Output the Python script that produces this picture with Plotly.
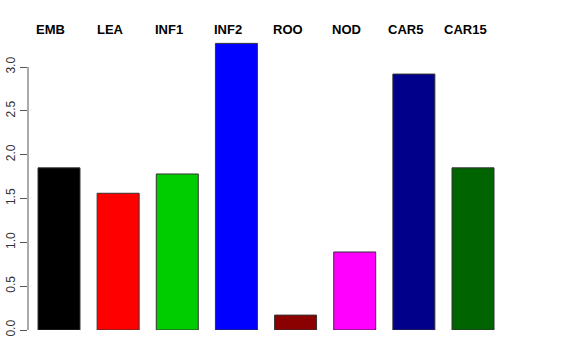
import plotly.graph_objects as go

categories = ["EMB", "LEA", "INF1", "INF2", "ROO", "NOD", "CAR5", "CAR15"]
values = [1.85, 1.56, 1.78, 3.27, 0.17, 0.89, 2.92, 1.85]
colors = ["#000000", "#FF0000", "#00CD00", "#0000FF", "#8B0000", "#FF00FF", "#00008B", "#006400"]
yticks = [0.0, 0.5, 1.0, 1.5, 2.0, 2.5, 3.0]

W, H = 576, 360
l, r, t, b = 28, 71.6, 32, 30
ph = H - t - b

fig = go.Figure(go.Bar(
    x=list(range(len(categories))), y=values,
    marker=dict(color=colors, line=dict(color="#333333", width=1)),
    width=0.71, showlegend=False, hoverinfo="skip"))

for i, c in enumerate(categories):
    fig.add_annotation(x=i, y=(ph + 3) / ph, xref="x", yref="paper", text="<b>" + c + "</b>",
                       showarrow=False, xshift=-8, yanchor="middle",
                       font=dict(family="Liberation Sans, Arial", size=13, color="black"))

fig.add_shape(type="line", xref="paper", yref="y", x0=0, x1=0, y0=0, y1=3.0,
              line=dict(color="#555555", width=1))

fig.update_layout(
    width=W, height=H, margin=dict(l=l, r=r, t=t, b=b, autoexpand=False),
    paper_bgcolor="white", plot_bgcolor="white",
    font=dict(family="Liberation Sans, Arial", size=12, color="#333333"),
    xaxis=dict(range=[-0.524, 7.524], showticklabels=False, showgrid=False, zeroline=False,
               showline=False, ticks="", automargin=False),
    yaxis=dict(range=[0, 3.4], tickvals=yticks, ticktext=["%.1f" % v for v in yticks],
               tickangle=-90, ticks="outside", ticklen=7, tickcolor="#555555",
               showgrid=False, zeroline=False, showline=False, automargin=False,
               tickfont=dict(size=12, color="#333333")),
)

fig.write_html("out.html", config={"displayModeBar": False, "staticPlot": True},
               post_script="document.body.style.margin='0';document.body.style.padding='0';")
